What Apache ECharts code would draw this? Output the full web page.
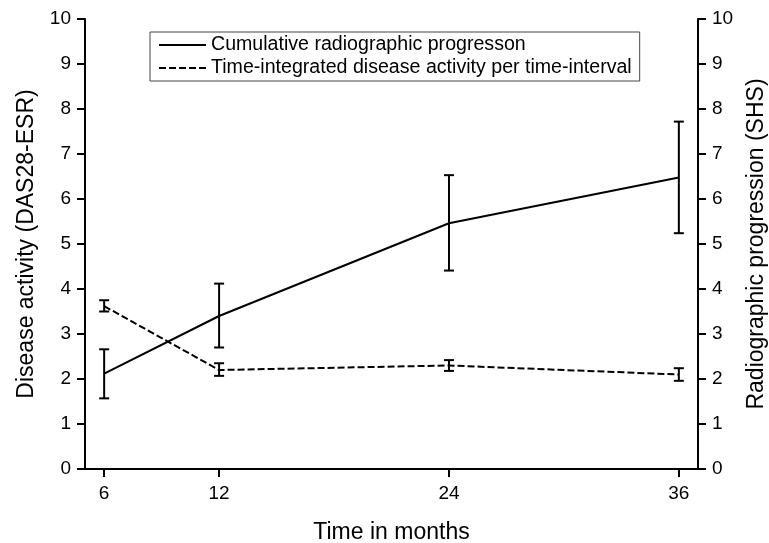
<!DOCTYPE html>
<html><head><meta charset="utf-8">
<script src="https://cdn.jsdelivr.net/npm/echarts@6/dist/echarts.min.js"></script>
<style>html,body{margin:0;padding:0;background:#fff}#c{width:769px;height:543px}</style>
</head><body><div id="c"></div>
<script>
const months = [6, 12, 24, 36];
const xTicks = [6, 12, 24, 36];
const seriesNames = ['Cumulative radiographic progresson', 'Time-integrated disease activity per time-interval'];
const shsMean = [2.12, 3.4, 5.46, 6.48];
const shsLow  = [1.57, 2.7, 4.41, 5.24];
const shsHigh = [2.66, 4.12, 6.53, 7.72];
const dasMean = [3.62, 2.2, 2.3, 2.1];
const dasLow  = [3.5, 2.07, 2.18, 1.96];
const dasHigh = [3.75, 2.35, 2.42, 2.24];

const FONT = 'Liberation Sans, Arial, sans-serif';
const chart = echarts.init(document.getElementById('c'));
function pairs(xs, ys){ return xs.map((x,i)=>[x, ys[i]]); }
function errData(xs, lo, hi){ return xs.map((x,i)=>[x, lo[i], hi[i]]); }
function errRender(params, api){
  const x = api.value(0);
  const p1 = api.coord([x, api.value(1)]);
  const p2 = api.coord([x, api.value(2)]);
  const w = 5;
  const st = {stroke:'#000', lineWidth:2};
  return {type:'group', children:[
    {type:'line', shape:{x1:p1[0],y1:p1[1],x2:p2[0],y2:p2[1]}, style:st},
    {type:'line', shape:{x1:p1[0]-w,y1:p1[1],x2:p1[0]+w,y2:p1[1]}, style:st},
    {type:'line', shape:{x1:p2[0]-w,y1:p2[1],x2:p2[0]+w,y2:p2[1]}, style:st}
  ]};
}
const axisCommon = {
  min:0, max:10, interval:1,
  axisLine:{show:true, lineStyle:{color:'#000', width:2}},
  axisTick:{show:true, length:8, lineStyle:{color:'#000', width:2}},
  axisLabel:{color:'#000', fontSize:19, fontFamily:FONT, margin:14},
  splitLine:{show:false},
  nameLocation:'middle',
  nameTextStyle:{color:'#000', fontSize:23, fontFamily:FONT}
};
chart.setOption({
  animation:false,
  backgroundColor:'#fff',
  grid:{left:85, right:71, top:19, bottom:74, outerBoundsMode:'none', containLabel:false},
  legend:{
    show:true, orient:'vertical', left:150, top:32,
    data:seriesNames,
    itemWidth:47, itemHeight:10, itemGap:3,
    padding:[3,8,3,8],
    borderColor:'#444', borderWidth:1,
    itemStyle:{opacity:0},
    textStyle:{color:'#000', fontSize:19.6, fontFamily:FONT}
  },
  xAxis:{
    type:'value', min:5, max:37,
    name:'Time in months', nameLocation:'middle', nameGap:52,
    nameTextStyle:{color:'#000', fontSize:23, fontFamily:FONT},
    axisLine:{show:true, onZero:false, lineStyle:{color:'#000', width:2}},
    axisTick:{show:true, length:8, customValues:xTicks, lineStyle:{color:'#000', width:2}},
    axisLabel:{color:'#000', fontSize:19, fontFamily:FONT, margin:15, customValues:xTicks},
    splitLine:{show:false}
  },
  yAxis:[
    Object.assign({}, axisCommon, {type:'value', position:'left', name:'Disease activity (DAS28-ESR)', nameGap:47}),
    Object.assign({}, axisCommon, {type:'value', position:'right', name:'Radiographic progression (SHS)', nameGap:47})
  ],
  series:[
    {name:seriesNames[0], type:'line', yAxisIndex:1, data:pairs(months, shsMean), symbol:'none',
     lineStyle:{color:'#000', width:2, type:'solid'}, itemStyle:{color:'#000'}, z:3},
    {name:seriesNames[1], type:'line', yAxisIndex:0, data:pairs(months, dasMean), symbol:'none',
     lineStyle:{color:'#000', width:2, type:[7,3]}, itemStyle:{color:'#000'}, z:3},
    {type:'custom', yAxisIndex:1, data:errData(months, shsLow, shsHigh), renderItem:errRender, z:4, silent:true},
    {type:'custom', yAxisIndex:0, data:errData(months, dasLow, dasHigh), renderItem:errRender, z:4, silent:true}
  ]
});
</script></body></html>
